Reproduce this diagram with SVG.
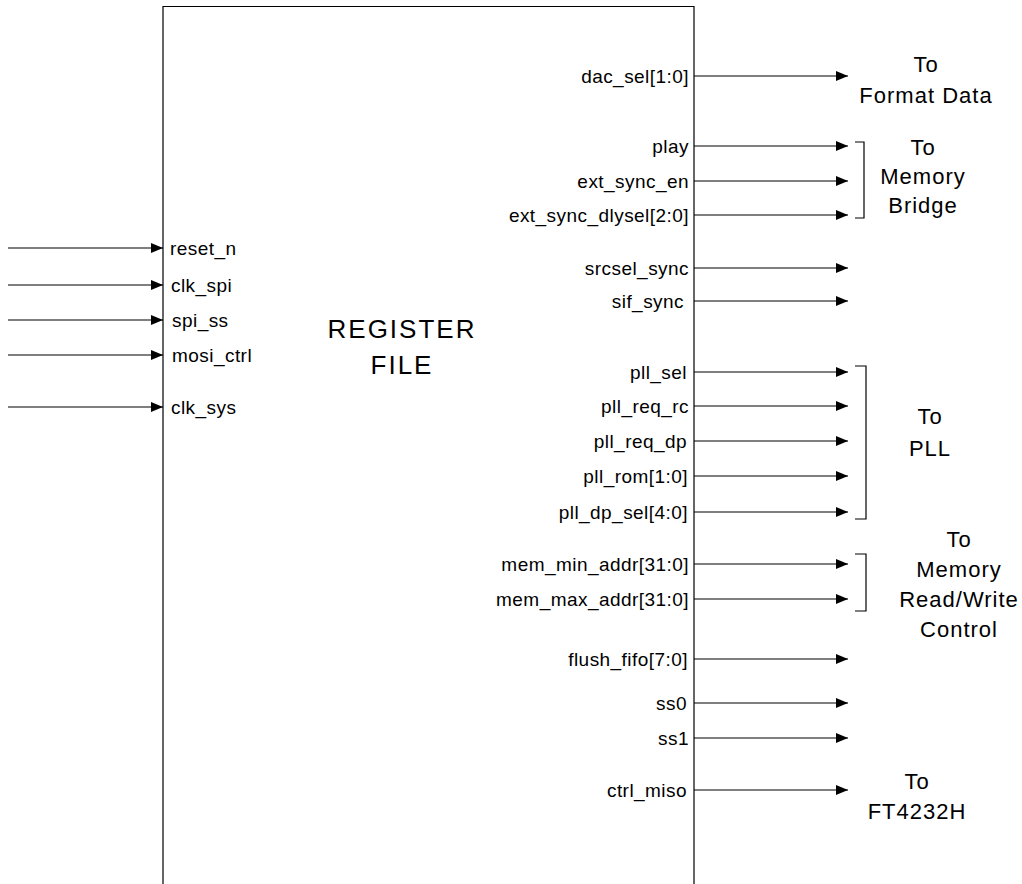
<svg xmlns="http://www.w3.org/2000/svg" width="1022" height="884" viewBox="0 0 1022 884">
<style>
text{font-family:"Liberation Sans",Arial,sans-serif;fill:#000}
.sig{font-size:19px;letter-spacing:0.45px}
.r{text-anchor:end}
.dst{font-size:22px;letter-spacing:1px;text-anchor:middle}
.big{font-size:26px;letter-spacing:2px;text-anchor:middle}
.w{stroke:#000;stroke-width:1.2;fill:none}
</style>
<defs>
<marker id="ah" markerWidth="12" markerHeight="10" refX="12" refY="5" orient="auto" markerUnits="userSpaceOnUse">
<path d="M0,0 L12,5 L0,10 Z" fill="#000"/>
</marker>
</defs>
<g id="register_file">
<path class="w" d="M163,884 L163,6.5 L694,6.5 L694,884"/>
<text class="big" x="402" y="338">REGISTER</text>
<text class="big" x="402" y="374">FILE</text>
</g>
<g id="connectors" stroke="#000" stroke-width="1.2" marker-end="url(#ah)">
<line x1="8" y1="248" x2="163" y2="248"/>
<line x1="8" y1="285" x2="163" y2="285"/>
<line x1="8" y1="320" x2="163" y2="320"/>
<line x1="8" y1="355" x2="163" y2="355"/>
<line x1="8" y1="407" x2="163" y2="407"/>
<line x1="694" y1="76" x2="848" y2="76"/>
<line x1="694" y1="146" x2="848" y2="146"/>
<line x1="694" y1="181" x2="848" y2="181"/>
<line x1="694" y1="215" x2="848" y2="215"/>
<line x1="694" y1="268" x2="848" y2="268"/>
<line x1="694" y1="301" x2="848" y2="301"/>
<line x1="694" y1="372" x2="848" y2="372"/>
<line x1="694" y1="406" x2="848" y2="406"/>
<line x1="694" y1="441" x2="848" y2="441"/>
<line x1="694" y1="476" x2="848" y2="476"/>
<line x1="694" y1="512" x2="848" y2="512"/>
<line x1="694" y1="564" x2="848" y2="564"/>
<line x1="694" y1="599" x2="848" y2="599"/>
<line x1="694" y1="659" x2="848" y2="659"/>
<line x1="694" y1="703" x2="848" y2="703"/>
<line x1="694" y1="738" x2="848" y2="738"/>
<line x1="694" y1="790" x2="848" y2="790"/>
</g>
<g id="inputs" class="sig">
<text x="170" y="255">reset_n</text>
<text x="171" y="292">clk_spi</text>
<text x="172" y="327">spi_ss</text>
<text x="172" y="362">mosi_ctrl</text>
<text x="171" y="414">clk_sys</text>
</g>
<g id="outputs" class="sig r">
<text x="689" y="83">dac_sel[1:0]</text>
<text x="689" y="153">play</text>
<text x="689" y="188">ext_sync_en</text>
<text x="689" y="222">ext_sync_dlysel[2:0]</text>
<text x="689" y="275">srcsel_sync</text>
<text x="684" y="308">sif_sync</text>
<text x="687" y="379">pll_sel</text>
<text x="689" y="413">pll_req_rc</text>
<text x="687" y="448">pll_req_dp</text>
<text x="688" y="483">pll_rom[1:0]</text>
<text x="688" y="519">pll_dp_sel[4:0]</text>
<text x="689" y="571">mem_min_addr[31:0]</text>
<text x="689" y="606">mem_max_addr[31:0]</text>
<text x="688" y="666">flush_fifo[7:0]</text>
<text x="687" y="710">ss0</text>
<text x="689" y="745">ss1</text>
<text x="687" y="797">ctrl_miso</text>
</g>
<g id="dest_format_data">
<text class="dst" x="926" y="72">To</text>
<text class="dst" x="926" y="103">Format Data</text>
</g>
<g id="dest_memory_bridge">
<path class="w" d="M855,142 L864,142 L864,218 L855,218"/>
<text class="dst" x="923" y="155">To</text>
<text class="dst" x="923" y="184">Memory</text>
<text class="dst" x="923" y="213">Bridge</text>
</g>
<g id="dest_pll">
<path class="w" d="M855,366 L866,366 L866,519 L855,519"/>
<text class="dst" x="930" y="424">To</text>
<text class="dst" x="930" y="456">PLL</text>
</g>
<g id="dest_memory_rw">
<path class="w" d="M855,554 L866,554 L866,611 L855,611"/>
<text class="dst" x="959" y="547">To</text>
<text class="dst" x="959" y="577">Memory</text>
<text class="dst" x="959" y="607">Read/Write</text>
<text class="dst" x="959" y="637">Control</text>
</g>
<g id="dest_ft4232h">
<text class="dst" x="917" y="789">To</text>
<text class="dst" x="917" y="819">FT4232H</text>
</g>
</svg>
